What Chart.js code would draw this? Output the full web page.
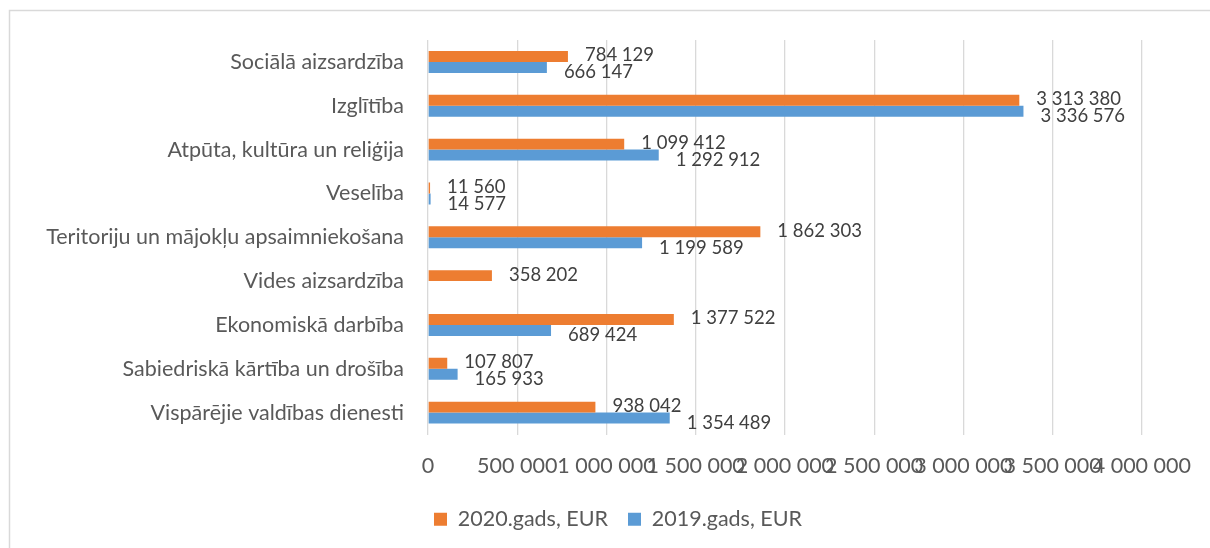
<!DOCTYPE html>
<html>
<head>
<meta charset="utf-8">
<script src="https://cdn.jsdelivr.net/npm/chart.js@4"></script>
<style>
  html, body { margin: 0; padding: 0; background: #fff; }
  #wrap { width: 1210px; height: 548px; }
</style>
</head>
<body>
<div id="wrap"><canvas id="chart" width="1210" height="548"></canvas></div>
<script>
const categories = [
  "Sociālā aizsardzība",
  "Izglītība",
  "Atpūta, kultūra un reliģija",
  "Veselība",
  "Teritoriju un mājokļu apsaimniekošana",
  "Vides aizsardzība",
  "Ekonomiskā darbība",
  "Sabiedriskā kārtība un drošība",
  "Vispārējie valdības dienesti",
];
const values2020 = [784129, 3313380, 1099412, 11560, 1862303, 358202, 1377522, 107807, 938042];
const values2019 = [666147, 3336576, 1292912, 14577, 1199589, null, 689424, 165933, 1354489];
const seriesNames = ["2020.gads, EUR", "2019.gads, EUR"];
const axisMax = 4000000;
const axisStep = 500000;

const FONT = "Lato";
const TEXT = "#595959";

function fmt(v) {
  return String(v).replace(/\B(?=(\d{3})+(?!\d))/g, " ");
}

// frame round the whole chart
const framePlugin = {
  id: "frame",
  beforeDraw(chart) {
    const ctx = chart.ctx;
    ctx.save();
    ctx.strokeStyle = "#d9d9d9";
    ctx.lineWidth = 1.5;
    ctx.strokeRect(9.5, 10.5, 1400, 800);
    ctx.restore();
  },
};

// legend sits a bit right of the canvas centre
const legendShift = {
  id: "legendShift",
  afterLayout(chart) {
    chart.legend.left += 47;
    chart.legend.right += 47;
  },
};

// value labels at the end of each bar
const labelOffsets = [-1, 5];
const valueLabels = {
  id: "valueLabels",
  afterDatasetsDraw(chart) {
    const ctx = chart.ctx;
    ctx.save();
    ctx.font = "18.5px " + FONT;
    ctx.fillStyle = "#404040";
    ctx.textAlign = "left";
    ctx.textBaseline = "middle";
    chart.data.datasets.forEach((ds, i) => {
      const meta = chart.getDatasetMeta(i);
      meta.data.forEach((bar, j) => {
        const v = ds.data[j];
        if (v === null || v === undefined) return;
        ctx.fillText(fmt(v), bar.x + 17, bar.y + labelOffsets[i]);
      });
    });
    ctx.restore();
  },
};

new Chart(document.getElementById("chart"), {
  type: "bar",
  data: {
    labels: categories,
    datasets: [
      {
        label: seriesNames[0],
        data: values2020,
        backgroundColor: "#ed7d31",
        barPercentage: 1,
        categoryPercentage: 0.5,
      },
      {
        label: seriesNames[1],
        data: values2019,
        backgroundColor: "#5b9bd5",
        barPercentage: 1,
        categoryPercentage: 0.5,
      },
    ],
  },
  options: {
    indexAxis: "y",
    responsive: false,
    animation: false,
    layout: { padding: { top: 40, left: 0, right: 68, bottom: 8 } },
    scales: {
      x: {
        min: 0,
        max: axisMax,
        ticks: {
          stepSize: axisStep,
          autoSkip: false,
          maxRotation: 0,
          minRotation: 0,
          padding: 19,
          color: TEXT,
          font: { family: FONT, size: 21.5 },
          callback: (v) => fmt(v),
        },
        grid: { color: "#d9d9d9", lineWidth: 1.3, drawTicks: false },
        border: { display: false },
        afterFit(scale) { scale.height = 54; },
      },
      y: {
        ticks: {
          padding: 24,
          color: TEXT,
          font: { family: FONT, size: 21.5 },
        },
        grid: { display: false, drawTicks: false },
        border: { display: false },
        afterFit(scale) { scale.width = 428; },
      },
    },
    plugins: {
      legend: {
        position: "bottom",
        labels: {
          boxWidth: 13,
          boxHeight: 13,
          padding: 20,
          color: TEXT,
          font: { family: FONT, size: 21.5 },
        },
      },
      tooltip: { enabled: false },
    },
  },
  plugins: [framePlugin, legendShift, valueLabels],
});
</script>
</body>
</html>
